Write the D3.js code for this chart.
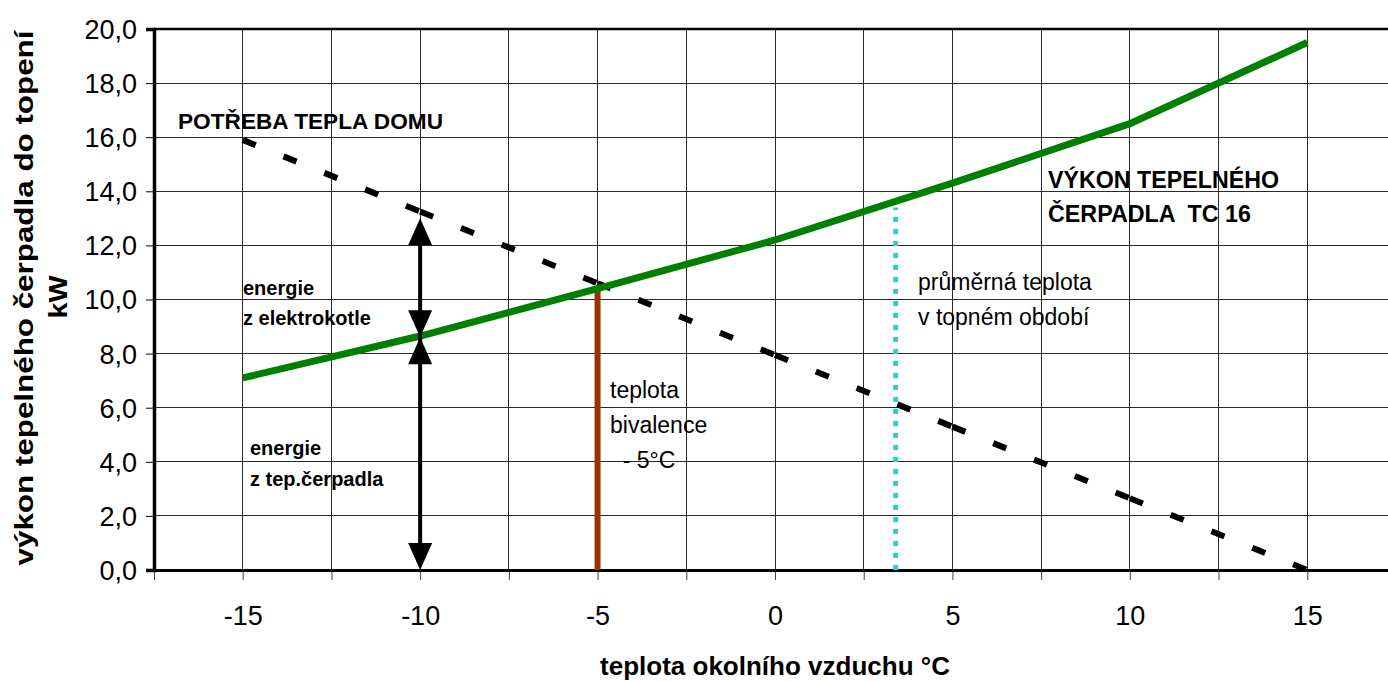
<!DOCTYPE html>
<html>
<head>
<meta charset="utf-8">
<script src="https://cdn.jsdelivr.net/npm/d3@7"></script>
<style>
  html, body { margin: 0; padding: 0; background: #fff; }
  svg { display: block; }
  text { font-family: "Liberation Sans", Arial, sans-serif; fill: #000; }
</style>
</head>
<body>
<script>
// ---- data ----
const temps = [-15, -10, -5, 0, 5, 10, 15];
const heatPumpOutput = [7.1, 8.65, 10.4, 12.2, 14.3, 16.5, 19.5];
const houseDemand = [15.9, 13.25, 10.6, 7.95, 5.3, 2.65, 0.0];
const xTickLabels = ["-15", "-10", "-5", "0", "5", "10", "15"];
const yTickValues = [0, 2, 4, 6, 8, 10, 12, 14, 16, 18, 20];
const bivalenceTemp = -5;
const averageTemp = 3.4;
const averageTempTop = 13.4;
const arrowTemp = -10;
const arrowLevels = [0, 8.6, 13.0];

const W = 1388, H = 681;
const svg = d3.select("body").append("svg").attr("width", W).attr("height", H);
svg.append("rect").attr("width", W).attr("height", H).attr("fill", "#fff");

const x = d3.scaleLinear().domain([-17.5, 17.5]).range([154, 1396]);
const y = d3.scaleLinear().domain([0, 20]).range([570, 29]);

const fmt = v => d3.format(".1f")(v).replace(".", ",");

// gridlines
const vGrid = d3.range(-17.5, 17.6, 2.5);
svg.append("g").selectAll("line").data(vGrid).join("line")
  .attr("x1", d => x(d)).attr("x2", d => x(d))
  .attr("y1", y(20)).attr("y2", y(0))
  .attr("stroke", "#2a2a2a").attr("stroke-width", 1).attr("shape-rendering", "crispEdges");
svg.append("g").selectAll("line").data(yTickValues).join("line")
  .attr("x1", x(-17.5)).attr("x2", x(17.5))
  .attr("y1", d => y(d)).attr("y2", d => y(d))
  .attr("stroke", "#2a2a2a").attr("stroke-width", 1).attr("shape-rendering", "crispEdges");

// top border
svg.append("line").attr("x1", x(-17.5)).attr("x2", x(17.5)).attr("y1", y(20)).attr("y2", y(20))
  .attr("stroke", "#000").attr("stroke-width", 2.5);

// y axis
const yAxis = svg.append("g").attr("transform", `translate(${x(-17.5)},0)`)
  .call(d3.axisLeft(y).tickValues(yTickValues).tickSize(8).tickPadding(9).tickFormat(fmt));
yAxis.select(".domain").attr("stroke", "#000").attr("stroke-width", 3.5);
yAxis.selectAll(".tick line").attr("stroke", "#000").attr("stroke-width", 1);
yAxis.selectAll(".tick text").attr("font-size", 27).attr("font-family", "Liberation Sans, Arial, sans-serif")
  .attr("x", -17).attr("dy", "0.35em");

// x axis: tick marks between categories
const xAxisTicks = svg.append("g").attr("transform", `translate(0,${y(0)})`)
  .call(d3.axisBottom(x).tickValues(vGrid).tickSize(10).tickFormat(""));
xAxisTicks.select(".domain").remove();
xAxisTicks.selectAll(".tick line").attr("stroke", "#444").attr("stroke-width", 1);
// x axis labels
const xAxisLabels = svg.append("g").attr("transform", `translate(0,${y(0)})`)
  .call(d3.axisBottom(x).tickValues(temps).tickSize(0).tickFormat((d, i) => xTickLabels[i]));
xAxisLabels.select(".domain").attr("stroke", "#000").attr("stroke-width", 3);
xAxisLabels.selectAll(".tick text").attr("font-size", 27).attr("font-family", "Liberation Sans, Arial, sans-serif")
  .attr("y", 55).attr("dy", null);

// brown bivalence line
const bivIdx = temps.indexOf(bivalenceTemp);
svg.append("line").attr("x1", x(bivalenceTemp)).attr("x2", x(bivalenceTemp))
  .attr("y1", y(0)).attr("y2", y(heatPumpOutput[bivIdx]))
  .attr("stroke", "#993300").attr("stroke-width", 6);

// cyan dotted average temperature line
svg.append("line").attr("x1", x(averageTemp)).attr("x2", x(averageTemp))
  .attr("y1", y(0)).attr("y2", y(averageTempTop))
  .attr("stroke", "#33CCCC").attr("stroke-width", 5).attr("stroke-dasharray", "5,7");

// dashed demand line (each segment restarts its dash pattern)
const pts = temps.map((t, i) => ({ t, d: houseDemand[i], h: heatPumpOutput[i] }));
const segs = d3.pairs(pts);
svg.append("g").selectAll("line").data(segs).join("line")
  .attr("x1", d => x(d[0].t)).attr("y1", d => y(d[0].d))
  .attr("x2", d => x(d[1].t)).attr("y2", d => y(d[1].d))
  .attr("stroke", "#000").attr("stroke-width", 6).attr("stroke-dasharray", "14,30");

// green heat pump output line
svg.append("path").datum(pts)
  .attr("d", d3.line().x(d => x(d.t)).y(d => y(d.h)))
  .attr("fill", "none").attr("stroke", "#008000").attr("stroke-width", 7);

// double arrows at -10
const ax = x(arrowTemp);
svg.append("line").attr("x1", ax).attr("x2", ax)
  .attr("y1", y(arrowLevels[0]) - 20).attr("y2", y(arrowLevels[2]) + 20)
  .attr("stroke", "#000").attr("stroke-width", 4);
function head(tipY, dir) {
  // dir = +1 : points up (base below); -1 : points down
  const hw = 12, hh = 27;
  return [[ax, tipY], [ax - hw, tipY + dir * hh], [ax + hw, tipY + dir * hh]];
}
const heads = [
  head(y(arrowLevels[2]), 1),
  head(y(arrowLevels[1]), -1),
  head(y(arrowLevels[1]), 1),
  head(y(arrowLevels[0]), -1)
];
svg.append("g").selectAll("polygon").data(heads).join("polygon")
  .attr("points", d => d.map(p => p.join(",")).join(" "))
  .attr("fill", "#000");

// annotations
function label(txt, px, py, size, weight, len) {
  const t = svg.append("text").attr("x", px).attr("y", py)
    .attr("font-size", size).attr("font-weight", weight)
    .style("white-space", "pre").text(txt);
  if (len) t.attr("textLength", len).attr("lengthAdjust", "spacingAndGlyphs");
  return t;
}
label("POTŘEBA TEPLA DOMU", 178, 129, 22.5, "bold", 265);
label("VÝKON TEPELNÉHO", 1048, 188, 23, "bold", 231);
label("ČERPADLA  TC 16", 1048, 222, 23, "bold", 203);
label("energie", 243, 295, 20, "bold");
label("z elektrokotle", 243, 325, 20, "bold");
label("energie", 250, 455, 20, "bold");
label("z tep.čerpadla", 250, 486, 20, "bold");
label("teplota", 610, 398, 23, "normal");
label("bivalence", 610, 433, 23, "normal");
label("  - 5°C", 610, 468, 23, "normal");
label("průměrná teplota", 918, 290, 23, "normal");
label("v topném období", 918, 325, 23, "normal");

// axis titles
svg.append("text").attr("x", 775).attr("y", 675).attr("text-anchor", "middle")
  .attr("font-size", 26).attr("font-weight", "bold").text("teplota okolního vzduchu °C");
svg.append("text").attr("transform", "translate(33,298) rotate(-90)").attr("text-anchor", "middle")
  .attr("font-size", 26).attr("font-weight", "bold")
  .attr("textLength", 535).attr("lengthAdjust", "spacingAndGlyphs")
  .text("výkon tepelného čerpadla do topení");
svg.append("text").attr("transform", "translate(67,297) rotate(-90)").attr("text-anchor", "middle")
  .attr("font-size", 26).attr("font-weight", "bold")
  .attr("textLength", 43).attr("lengthAdjust", "spacingAndGlyphs")
  .text("kW");
</script>
</body>
</html>
